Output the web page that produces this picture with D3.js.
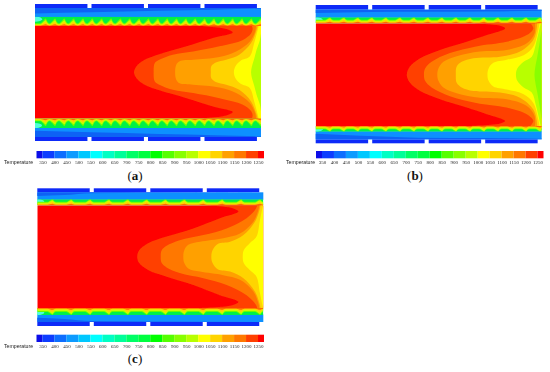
<!DOCTYPE html>
<html>
<head>
<meta charset="utf-8">
<script src="https://cdnjs.cloudflare.com/ajax/libs/d3/7.8.5/d3.min.js"></script>
<style>
  html, body { margin: 0; padding: 0; background: #fff; }
  svg { display: block; }
</style>
</head>
<body>
<div id="chart"></div>
<script>
// legend
var tickLevels = [350, 400, 450, 500, 550, 600, 650, 700, 750, 800, 850, 900, 950, 1000, 1050, 1100, 1150, 1200, 1250];
var legendEdges = [325].concat(tickLevels, [1275]);
var legendColors = ['#0a0fe8', '#0a3cff', '#0a6eff', '#0a9bff', '#00c8ff', '#00ffff', '#00ffc4', '#00ff99', '#00ff66', '#00ff40', '#00ff00', '#55ff00', '#88ff00', '#b8ff00', '#ffff00', '#ffd400', '#ffa000', '#ff7800', '#ff4000', '#ff0000'];

// isotherms: [axial %, distance from centreline as % of core half height], upper half only
var isoA1200 = [[43.8, 0], [44.9, 13], [48.5, 27], [55, 39], [67, 56], [78.7, 74], [87.5, 86], [85, 93], [75.7, 99], [67, 100]];
var isoA1150 = [[52.5, 0], [53, 20], [55, 27], [61, 38], [70, 45], [81.6, 56], [92, 70], [95.6, 84], [96.3, 94], [96, 100]];
var isoA1100 = [[62, 0], [62.5, 16], [64, 24], [70, 27], [81.6, 33], [89, 45], [95, 66], [97.4, 88], [97.8, 100]];
var isoA1050 = [[77.8, 0], [78, 13], [80, 21], [84.6, 27], [90.4, 38], [95.6, 63], [98, 91], [98.5, 100]];
var isoA1000 = [[88, 0], [88.7, 13], [91, 25], [95, 34], [97, 63], [99, 100]];
var isoA950 = [[95.6, 0], [96, 13], [97, 29], [98, 48], [99.5, 70], [100, 84]];

var isoB1200 = [[40.3, 0], [41.7, 16], [46.2, 32], [55, 48], [66.8, 64], [75.7, 77], [83.8, 90], [81.6, 95], [72.7, 99], [66.8, 100]];
var isoB1150 = [[47.9, 0], [48.4, 12], [51.3, 25], [59.4, 42], [71, 55], [84.5, 64], [93.4, 77], [96.3, 90], [95, 100]];
var isoB1100 = [[53.8, 0], [54.3, 12], [56.5, 25], [62.4, 36], [72.7, 45], [84.5, 48], [93.4, 61], [96.8, 80], [97, 100]];
var isoB1050 = [[62, 0], [62.4, 16], [64.6, 25], [69.8, 32], [81.6, 35], [90.4, 45], [96.3, 68], [97.8, 90], [98, 100]];
var isoB1000 = [[76, 0], [76.5, 12], [78.6, 23], [84.5, 29], [92, 38], [96.3, 55], [98.5, 87], [99, 100]];
var isoB950 = [[88.6, 0], [89.2, 12], [92, 25], [95.6, 35], [97.5, 61], [99.6, 100]];
var isoB900 = [[96.8, 0], [97.2, 16], [98, 34], [99.3, 68], [100, 87]];

var isoC1200 = [[44.2, 0], [45, 12], [49, 26], [57.2, 39], [69, 55], [80.8, 75], [89, 88], [86.7, 94], [76.4, 99], [70.5, 100]];
var isoC1150 = [[54.6, 0], [55, 12], [57.2, 21], [63, 32], [73.5, 42], [83.8, 55], [92.6, 75], [96.8, 94], [97.3, 100]];
var isoC1100 = [[64.6, 0], [65, 12], [66.8, 23], [72, 29], [82.3, 36], [89.7, 45], [95.6, 68], [98, 94], [98.2, 100]];
var isoC1050 = [[77, 0], [77.6, 13], [80, 25], [85.3, 29], [91.2, 42], [96.3, 68], [98.5, 94], [98.8, 100]];
var isoC1000 = [[90.9, 0], [91.4, 13], [94, 26], [97, 39], [98.5, 71], [99.6, 94], [100, 100]];

// cooler layer in the jacket: [axial %, depth % of jacket]
var wedgeATop = [[0, 62], [25, 50], [55, 32], [80, 20], [100, 6]];
var wedgeABottom = [[0, 70], [25, 52], [55, 34], [80, 20], [100, 6]];
var wedgeBTop = [[0, 45], [25, 30], [50, 28], [75, 24], [100, 14]];
var wedgeBBottom = [[0, 72], [20, 46], [45, 22], [75, 18], [100, 8]];
var wedgeCTop = [[0, 52], [12, 40], [24, 12], [50, 6], [100, 0]];
var wedgeCBottom = [[0, 60], [12, 44], [24, 14], [50, 6], [100, 0]];

// wall strip, from the hot side out: band edge as % of strip height between and at the fins
var stripColors = ['#66ff00', '#c8ff00', '#ffd400', '#ff6a00'];
var stripValleyA = [30, 20, 11, 5];
var stripValleyThin = [58, 44, 24, 10];
var stripRidgeA = [80, 62, 42, 18];
var stripRidgeThin = [100, 86, 62, 26];
var ridgeProfile = [0, 0.42, 1, 0.42, 0];
var ridgeOffset = [-1, -0.45, 0.18, 0.5, 1];

var notchAt = [24.1, 49.1, 74.1];

var panels = [
  { label: 'a', x: 35, w: 226, y: [4, 8, 16.7, 26, 118.5, 128, 137, 141], iso: [isoA1200, isoA1150, isoA1100, isoA1050, isoA1000, isoA950], cols: ['#ff4000', '#ff7800', '#ffa000', '#ffd400', '#ffff00', '#b8ff00'], topW: wedgeATop, botW: wedgeABottom, fins: 24, first: 4.4, step: 4.14, valley: stripValleyA, ridge: stripRidgeA, barX: 36.5, barY: 151, textX: 4, capX: 135, capY: 180 },
  { label: 'b', x: 315.7, w: 226, y: [5, 9.7, 17.3, 23.3, 126, 131.7, 139.3, 143.3], iso: [isoB1200, isoB1150, isoB1100, isoB1050, isoB1000, isoB950, isoB900], cols: ['#ff4000', '#ff7800', '#ffa000', '#ffd400', '#ffff00', '#b8ff00', '#88ff00'], topW: wedgeBTop, botW: wedgeBBottom, fins: 16, first: 6, step: 6.2, valley: stripValleyThin, ridge: stripRidgeThin, barX: 316, barY: 151, textX: 286, capX: 415, capY: 180 },
  { label: 'c', x: 37.3, w: 226, y: [188.3, 192.3, 199.3, 205.3, 308, 315, 322, 326], iso: [isoC1200, isoC1150, isoC1100, isoC1050, isoC1000], cols: ['#ff4000', '#ff7800', '#ffa000', '#ffd400', '#ffff00'], topW: wedgeCTop, botW: wedgeCBottom, fins: 12, first: 6.4, step: 8.35, valley: stripValleyThin, ridge: stripRidgeThin, barX: 36.5, barY: 334.7, textX: 4, capX: 135, capY: 363 }
];

var svg = d3.select("#chart").append("svg").attr("width", 550).attr("height", 372);
var defs = svg.append("defs");

defs.append("filter").attr("id", "soft")
  .attr("filterUnits", "userSpaceOnUse")
  .attr("x", 0).attr("y", 0).attr("width", 550).attr("height", 372)
  .append("feGaussianBlur").attr("stdDeviation", 0.6);
defs.append("filter").attr("id", "softer")
  .attr("filterUnits", "userSpaceOnUse")
  .attr("x", 0).attr("y", 0).attr("width", 550).attr("height", 372)
  .append("feGaussianBlur").attr("stdDeviation", 0.25);

function drawPanel(p, idx) {
  var g = svg.append("g").attr("filter", "url(#soft)");
  var ax = d3.scaleLinear().domain([0, 100]).range([p.x, p.x + p.w]);
  var r = d3.scaleLinear().domain([-100, 100]).range([p.y[4], p.y[3]]);
  var coreH = p.y[4] - p.y[3];
  var outerEnd = 98.2;

  // outer shell with its notches
  var edges = [0].concat(notchAt, [outerEnd + 0.9]);
  d3.pairs(edges).forEach(function(e, i) {
    var a = i === 0 ? 0 : e[0] + 0.9;
    var b = e[1] - 0.9;
    [[p.y[0], p.y[1]], [p.y[6], p.y[7]]].forEach(function(s) {
      g.append("rect").attr("x", ax(a)).attr("y", s[0])
        .attr("width", ax(b) - ax(a)).attr("height", s[1] - s[0])
        .attr("fill", "#0a2cf8");
    });
  });

  // jacket
  g.append("rect").attr("x", ax(0)).attr("y", p.y[1]).attr("width", p.w).attr("height", p.y[2] - p.y[1] + 0.5).attr("fill", "#0a90ff");
  g.append("rect").attr("x", ax(0)).attr("y", p.y[5] - 0.5).attr("width", p.w).attr("height", p.y[6] - p.y[5] + 0.5).attr("fill", "#0a90ff");

  var topD = d3.scaleLinear().domain([0, 100]).range([p.y[1], p.y[2]]);
  var botD = d3.scaleLinear().domain([0, 100]).range([p.y[6], p.y[5]]);
  [[p.topW, topD], [p.botW, botD]].forEach(function(w) {
    g.append("path")
      .attr("d", d3.area().x(function(d) { return ax(d[0]); }).y0(w[1](0)).y1(function(d) { return w[1](d[1]); }).curve(d3.curveMonotoneX)(w[0]))
      .attr("fill", "#0a62f5");
  });

  // wall strips
  var clipId = "strip" + idx;
  var clip = defs.append("clipPath").attr("id", clipId);
  clip.append("rect").attr("x", ax(0)).attr("y", p.y[2]).attr("width", p.w).attr("height", p.y[3] - p.y[2]);
  clip.append("rect").attr("x", ax(0)).attr("y", p.y[4]).attr("width", p.w).attr("height", p.y[5] - p.y[4]);

  var strips = g.append("g").attr("clip-path", "url(#" + clipId + ")");
  strips.append("rect").attr("x", ax(0)).attr("y", p.y[2]).attr("width", p.w).attr("height", p.y[5] - p.y[2]).attr("fill", "#00f048");
  // cyan inlet patch at the left end
  [p.y[2], p.y[5] - 5].forEach(function(yy) {
    strips.append("ellipse").attr("cx", ax(0)).attr("cy", yy + 2.5).attr("rx", 7).attr("ry", 2.6).attr("fill", "#50ffd8");
  });

  var fins = d3.range(p.fins).map(function(i) { return p.first + i * p.step; });
  var stripTop = d3.scaleLinear().domain([0, 100]).range([p.y[3], p.y[2]]);
  var stripBot = d3.scaleLinear().domain([0, 100]).range([p.y[4], p.y[5]]);
  var halfW = Math.min(0.48 * p.step * p.w / 100, 0.7 * (p.y[3] - p.y[2]));
  var edgeLine = d3.line().curve(d3.curveMonotoneX);

  [stripTop, stripBot].forEach(function(dep) {
    stripColors.forEach(function(col, k) {
      var pts = [[ax(0), dep(p.valley[k])]];
      fins.forEach(function(f) {
        ridgeOffset.forEach(function(o, j) {
          pts.push([ax(f) + o * halfW, dep(p.valley[k] + (p.ridge[k] - p.valley[k]) * ridgeProfile[j])]);
        });
      });
      pts.push([ax(100), dep(p.valley[k])]);
      strips.append("path")
        .attr("d", edgeLine(pts) + "L" + ax(100) + "," + dep(0) + "L" + ax(0) + "," + dep(0) + "Z")
        .attr("fill", col);
    });
  });

  // core
  var coreClip = "core" + idx;
  defs.append("clipPath").attr("id", coreClip).append("rect").attr("x", ax(0)).attr("y", p.y[3]).attr("width", p.w).attr("height", coreH);
  var core = g.append("g").attr("clip-path", "url(#" + coreClip + ")");
  core.append("rect").attr("x", ax(0)).attr("y", p.y[3]).attr("width", p.w).attr("height", coreH).attr("fill", "#ff0000");

  var isoLine = d3.line()
    .x(function(d) { return ax(d[0]); })
    .y(function(d) { return r(d[1]); })
    .curve(d3.curveCatmullRom.alpha(0.5));

  p.iso.forEach(function(upper, k) {
    var lower = upper.slice(1).reverse().map(function(d) { return [d[0], -d[1]]; });
    var pts = lower.concat(upper);
    var last = upper[upper.length - 1];
    core.append("path")
      .attr("d", isoLine(pts) + "L" + ax(100) + "," + r(last[1]) + "L" + ax(100) + "," + r(-last[1]) + "Z")
      .attr("fill", p.cols[k]);
  });

  // legend
  var barW = 227.5;
  var lx = d3.scaleLinear().domain([325, 1275]).range([p.barX, p.barX + barW]);
  var bar = svg.append("g").attr("filter", "url(#softer)");
  bar.selectAll("rect").data(d3.pairs(legendEdges)).enter().append("rect")
    .attr("x", function(d) { return lx(d[0]); })
    .attr("y", p.barY)
    .attr("width", function(d) { return lx(d[1]) - lx(d[0]); })
    .attr("height", 7.3)
    .attr("fill", function(d, i) { return legendColors[i]; });

  var axis = d3.axisBottom(lx).tickValues(tickLevels).tickSize(0).tickPadding(2.2).tickFormat(d3.format("d"));
  var ag = svg.append("g").attr("transform", "translate(0," + (p.barY + 7.3) + ")").attr("filter", "url(#softer)").call(axis);
  ag.select(".domain").remove();
  ag.selectAll("text").attr("font-family", "'Liberation Serif', serif").attr("font-size", 5).attr("fill", "#222");

  svg.append("text").attr("x", p.textX).attr("y", p.barY + 13.4)
    .attr("font-family", "'Liberation Sans', sans-serif").attr("font-size", 5.2).attr("fill", "#222")
    .attr("filter", "url(#softer)").text("Temperature");

  var cap = svg.append("text").attr("x", p.capX).attr("y", p.capY).attr("text-anchor", "middle")
    .attr("font-family", "'Liberation Serif', serif").attr("font-size", 13).attr("fill", "#111");
  cap.append("tspan").text("(");
  cap.append("tspan").attr("font-weight", "bold").text(p.label);
  cap.append("tspan").text(")");
}

panels.forEach(drawPanel);
</script>
</body>
</html>
